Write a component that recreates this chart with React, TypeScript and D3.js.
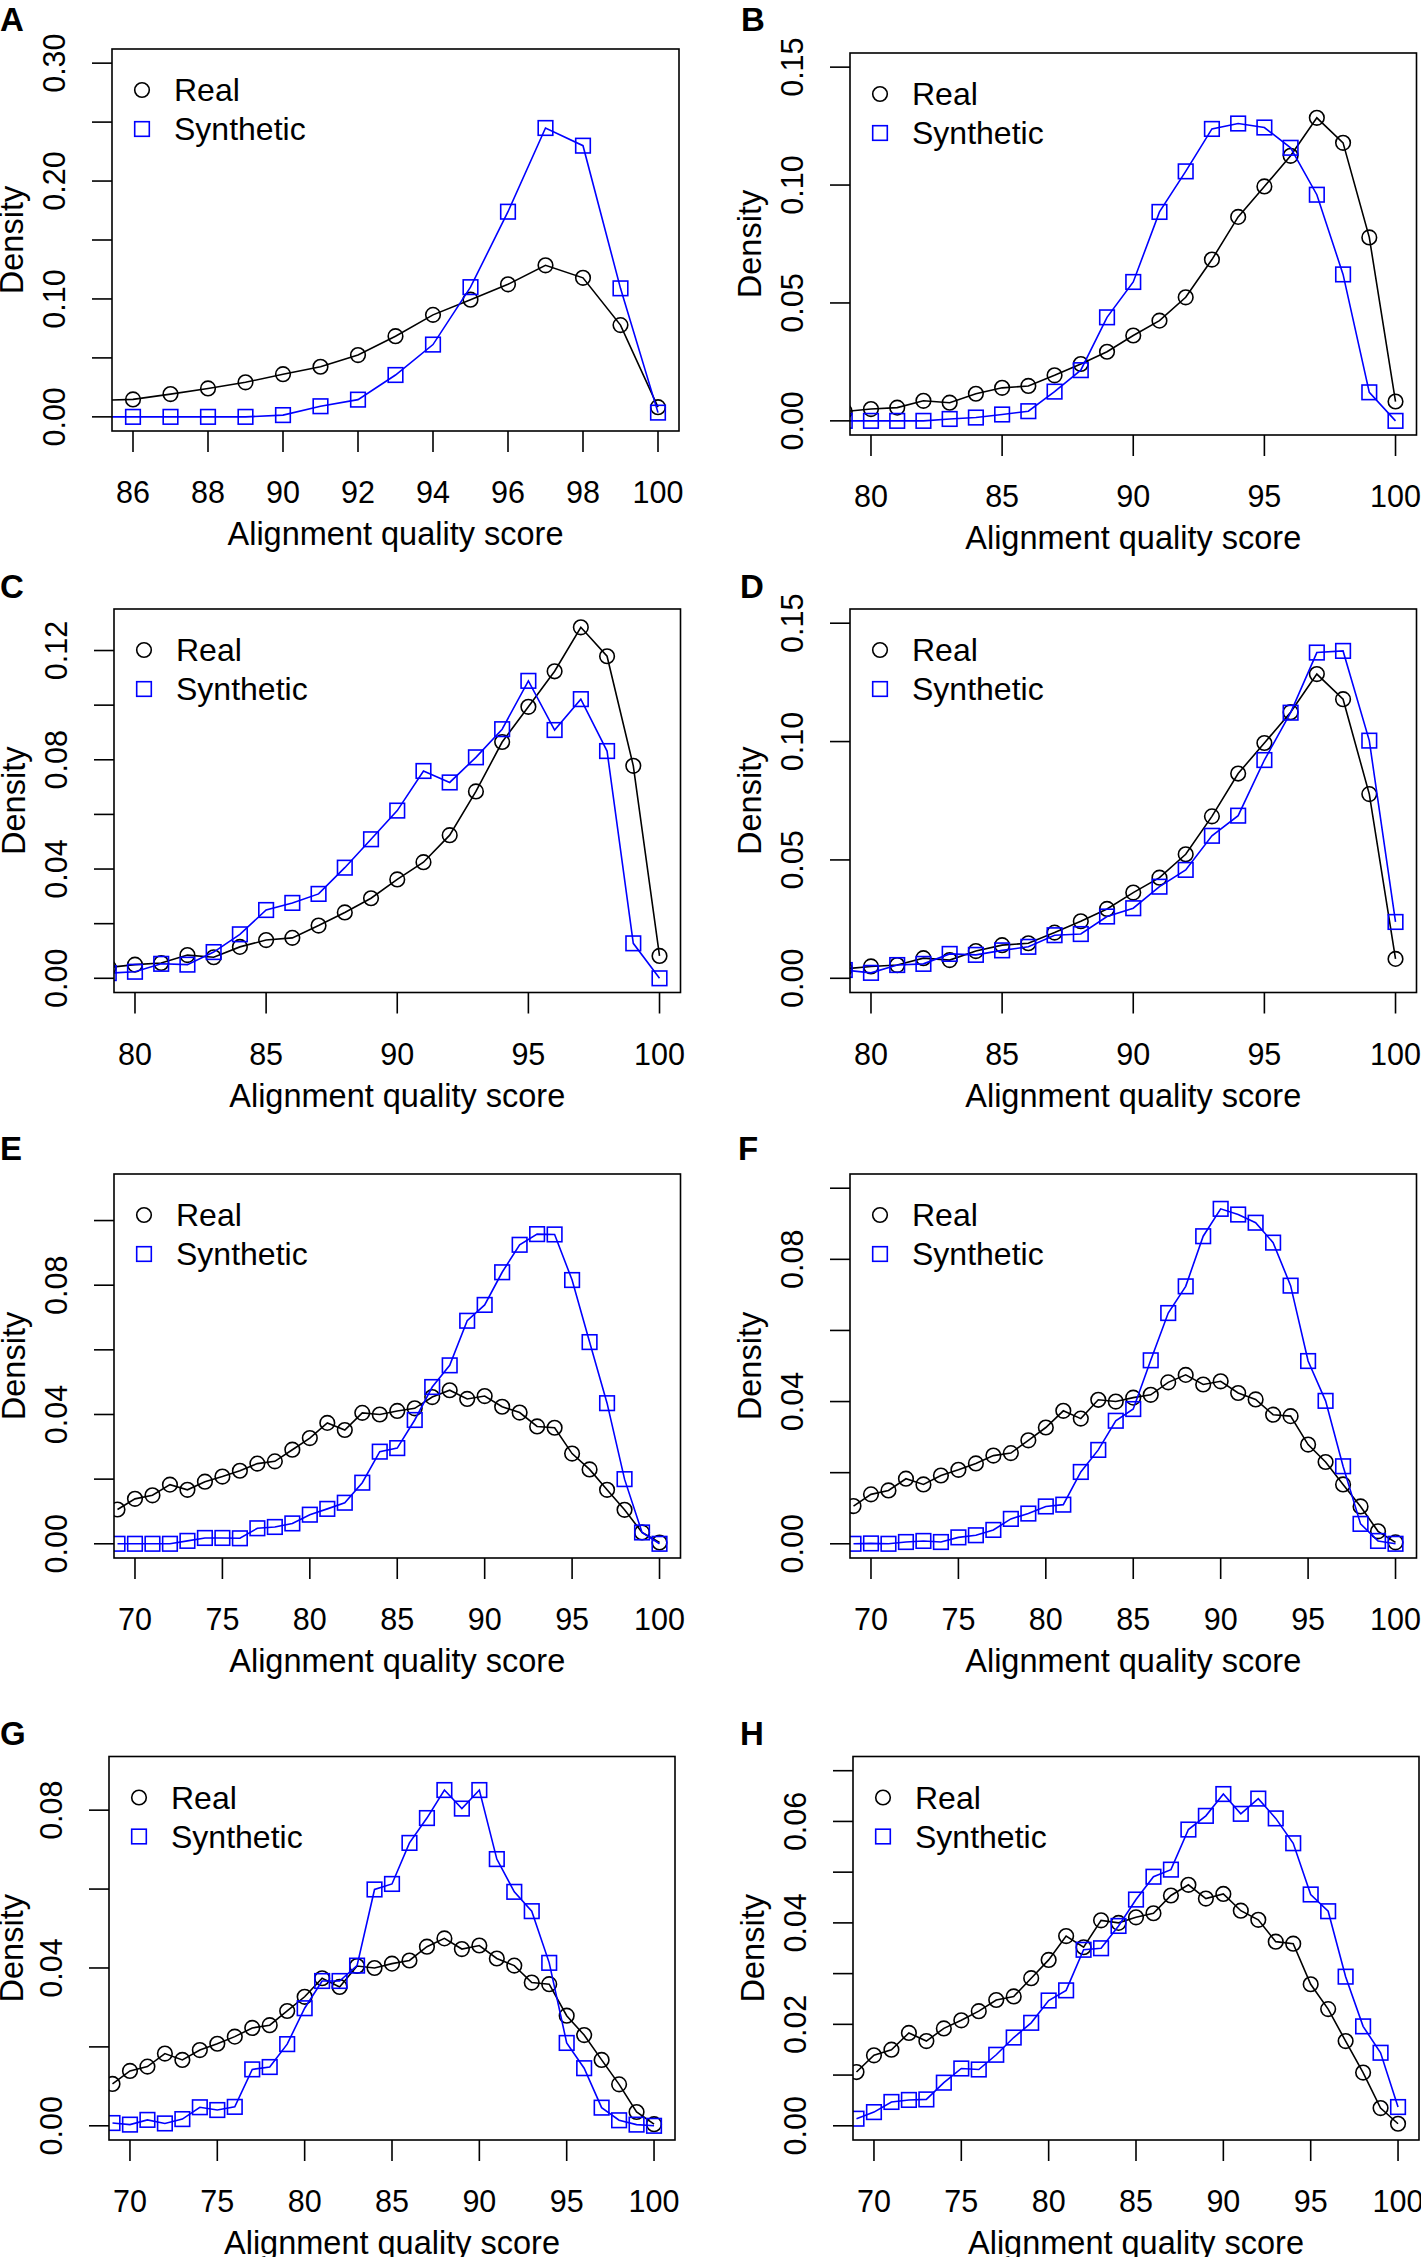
import React from "react";
import * as d3 from "d3";

// ---------- DATA ----------
const panelLetters = ["A", "B", "C", "D", "E", "F", "G", "H"];
const seriesNames = ["Real", "Synthetic"];
const xTitle = "Alignment quality score";
const yTitle = "Density";

// Real reads, panels A–D (scores 79..100)
const realAD_start = 79;
const realAD = [0.0040, 0.0050, 0.0056, 0.0085, 0.0077, 0.0115, 0.0140, 0.0148, 0.0193, 0.0241, 0.0293, 0.0362, 0.0425, 0.0524, 0.0684, 0.0865, 0.0994, 0.1124, 0.1285, 0.1179, 0.0778, 0.0082];

// Synthetic reads, panels A–D
const synthA_start = 85;
const synthA = [0, 0, 0, 0, 0, 0.0015, 0.0090, 0.0146, 0.0355, 0.0613, 0.110, 0.174, 0.245, 0.230, 0.109, 0.0036];
const synthB_start = 79;
const synthB = [0, 0, 0, 0, 0.0008, 0.0014, 0.0027, 0.0041, 0.0124, 0.0215, 0.0439, 0.0589, 0.0886, 0.1058, 0.1238, 0.1261, 0.1244, 0.1158, 0.0959, 0.0621, 0.0121, 0];
const synthC_start = 79;
const synthC = [0.0019, 0.0024, 0.0053, 0.0050, 0.0096, 0.0161, 0.0250, 0.0276, 0.0309, 0.0405, 0.0509, 0.0614, 0.0759, 0.0717, 0.0809, 0.0912, 0.1089, 0.0909, 0.1022, 0.0832, 0.0128, 0];
const synthD_start = 79;
const synthD = [0.0035, 0.0023, 0.0056, 0.0061, 0.0103, 0.0099, 0.0118, 0.0133, 0.0182, 0.0187, 0.0261, 0.0296, 0.0387, 0.0458, 0.0602, 0.0687, 0.0922, 0.1122, 0.1376, 0.1383, 0.1004, 0.0238];

// Real reads, panels E–H (scores 69..100)
const realEH_start = 69;
const realEH = [0.0106, 0.0139, 0.0150, 0.0183, 0.0167, 0.0192, 0.0208, 0.0226, 0.0248, 0.0255, 0.0291, 0.0327, 0.0374, 0.0352, 0.0405, 0.0400, 0.0411, 0.0419, 0.0454, 0.0475, 0.0448, 0.0457, 0.0424, 0.0406, 0.0363, 0.0359, 0.0279, 0.0230, 0.0167, 0.0105, 0.0035, 0.0004];

// Synthetic reads, panels E–H
const synthE_start = 69;
const synthE = [0, 0, 0, 0, 0.0009, 0.0018, 0.0018, 0.0017, 0.0048, 0.0052, 0.0063, 0.0090, 0.0108, 0.0127, 0.0189, 0.0285, 0.0296, 0.0383, 0.0485, 0.0552, 0.0690, 0.0739, 0.0840, 0.0925, 0.0958, 0.0957, 0.0816, 0.0624, 0.0435, 0.0200, 0.0035, 0];
const synthF_start = 69;
const synthF = [0, 0.0001, 0, 0.0005, 0.0008, 0.0005, 0.0018, 0.0024, 0.0039, 0.0070, 0.0085, 0.0105, 0.0110, 0.0202, 0.0264, 0.0346, 0.0379, 0.0516, 0.0649, 0.0724, 0.0865, 0.0942, 0.0926, 0.0903, 0.0847, 0.0726, 0.0514, 0.0402, 0.0218, 0.0056, 0.0008, 0];
const synthG_start = 69;
const synthG = [0.0007, 0.0003, 0.0015, 0.0006, 0.0017, 0.0047, 0.0040, 0.0048, 0.0143, 0.0149, 0.0207, 0.0298, 0.0367, 0.0367, 0.0406, 0.0599, 0.0613, 0.0717, 0.0780, 0.0851, 0.0804, 0.0851, 0.0676, 0.0593, 0.0544, 0.0413, 0.0210, 0.0146, 0.0046, 0.0014, 0.0003, 0];
const synthH_start = 69;
const synthH = [0.0014, 0.0027, 0.0047, 0.0051, 0.0052, 0.0085, 0.0113, 0.0111, 0.0140, 0.0174, 0.0203, 0.0247, 0.0267, 0.0347, 0.0350, 0.0394, 0.0446, 0.0491, 0.0505, 0.0584, 0.0611, 0.0654, 0.0615, 0.0645, 0.0606, 0.0557, 0.0456, 0.0423, 0.0294, 0.0196, 0.0144, 0.0037];

// Axis ranges and ticks
const xlimA = [86, 100];
const xTicksA = [86, 88, 90, 92, 94, 96, 98, 100];
const xlimBD = [80, 100];
const xTicksBD = [80, 85, 90, 95, 100];
const xlimEH = [70, 100];
const xTicksEH = [70, 75, 80, 85, 90, 95, 100];

const ylimA = [0, 0.30];
const yTicksA = [0, 0.05, 0.10, 0.15, 0.20, 0.25, 0.30];
const yLabelsA = ["0.00", "0.10", "0.20", "0.30"];
const ylimB = [0, 0.15];
const yTicksB = [0, 0.05, 0.10, 0.15];
const yLabelsB = ["0.00", "0.05", "0.10", "0.15"];
const ylimC = [0, 0.13];
const yTicksC = [0, 0.02, 0.04, 0.06, 0.08, 0.10, 0.12];
const yLabelsC = ["0.00", "0.04", "0.08", "0.12"];
const ylimD = [0, 0.15];
const yTicksD = [0, 0.05, 0.10, 0.15];
const yLabelsD = ["0.00", "0.05", "0.10", "0.15"];
const ylimE = [0, 0.11];
const yTicksE = [0, 0.02, 0.04, 0.06, 0.08, 0.10];
const yLabelsE = ["0.00", "0.04", "0.08"];
const ylimF = [0, 0.10];
const yTicksF = [0, 0.02, 0.04, 0.06, 0.08, 0.10];
const yLabelsF = ["0.00", "0.04", "0.08"];
const ylimG = [0, 0.09];
const yTicksG = [0, 0.02, 0.04, 0.06, 0.08];
const yLabelsG = ["0.00", "0.04", "0.08"];
const ylimH = [0, 0.07];
const yTicksH = [0, 0.01, 0.02, 0.03, 0.04, 0.05, 0.06, 0.07];
const yLabelsH = ["0.00", "0.02", "0.04", "0.06"];

// ---------- LAYOUT ----------
const W = 1421;
const H = 2257;
const boxes = [
  { l: 112, r: 679, t: 49, b: 431, lx: 0, ly: 30.5 },
  { l: 850, r: 1416.5, t: 53, b: 435, lx: 741, ly: 30.5 },
  { l: 114, r: 680.5, t: 609, b: 992.5, lx: 0, ly: 598 },
  { l: 850, r: 1416.5, t: 609, b: 992.5, lx: 740, ly: 598 },
  { l: 114, r: 680.5, t: 1174, b: 1558, lx: 0, ly: 1160 },
  { l: 850, r: 1416.5, t: 1174, b: 1558, lx: 738, ly: 1160 },
  { l: 109, r: 675, t: 1756.5, b: 2140, lx: 0, ly: 1744.5 },
  { l: 853, r: 1419, t: 1756.5, b: 2140, lx: 740, ly: 1744.5 },
];

const BLUE = "#0000FF";
const FONT = "'Liberation Sans', Arial, Helvetica, sans-serif";
const FS_TICK = 30.5;
const FS_LAB = 32.5;
const FS_LEG = 32;

function toPoints(start: number, vals: number[]) {
  return vals.map((v, i) => ({ x: start + i, y: v }));
}

const panels = [
  { real: toPoints(realAD_start, realAD), synth: toPoints(synthA_start, synthA), xlim: xlimA, xTicks: xTicksA, ylim: ylimA, yTicks: yTicksA, yLabels: yLabelsA },
  { real: toPoints(realAD_start, realAD), synth: toPoints(synthB_start, synthB), xlim: xlimBD, xTicks: xTicksBD, ylim: ylimB, yTicks: yTicksB, yLabels: yLabelsB },
  { real: toPoints(realAD_start, realAD), synth: toPoints(synthC_start, synthC), xlim: xlimBD, xTicks: xTicksBD, ylim: ylimC, yTicks: yTicksC, yLabels: yLabelsC },
  { real: toPoints(realAD_start, realAD), synth: toPoints(synthD_start, synthD), xlim: xlimBD, xTicks: xTicksBD, ylim: ylimD, yTicks: yTicksD, yLabels: yLabelsD },
  { real: toPoints(realEH_start, realEH), synth: toPoints(synthE_start, synthE), xlim: xlimEH, xTicks: xTicksEH, ylim: ylimE, yTicks: yTicksE, yLabels: yLabelsE },
  { real: toPoints(realEH_start, realEH), synth: toPoints(synthF_start, synthF), xlim: xlimEH, xTicks: xTicksEH, ylim: ylimF, yTicks: yTicksF, yLabels: yLabelsF },
  { real: toPoints(realEH_start, realEH), synth: toPoints(synthG_start, synthG), xlim: xlimEH, xTicks: xTicksEH, ylim: ylimG, yTicks: yTicksG, yLabels: yLabelsG },
  { real: toPoints(realEH_start, realEH), synth: toPoints(synthH_start, synthH), xlim: xlimEH, xTicks: xTicksEH, ylim: ylimH, yTicks: yTicksH, yLabels: yLabelsH },
];

function ext(lim: number[]) {
  const d = (lim[1] - lim[0]) * 0.04;
  return [lim[0] - d, lim[1] + d];
}

const R = 7.3;
const SQ = 14.6;
const LW = 1.6;

function Panel({ idx }: { idx: number }) {
  const p = panels[idx];
  const b = boxes[idx];
  const x = d3.scaleLinear().domain(ext(p.xlim)).range([b.l, b.r]);
  const y = d3.scaleLinear().domain(ext(p.ylim)).range([b.b, b.t]);
  const line = d3
    .line<{ x: number; y: number }>()
    .x((d) => x(d.x))
    .y((d) => y(d.y));
  const clipId = `clip${idx}`;
  const midY = (b.t + b.b) / 2;
  const midX = (b.l + b.r) / 2;
  const dens = Math.max(b.l - 89, 23);
  return (
    <g>
      <defs>
        <clipPath id={clipId}>
          <rect x={b.l} y={b.t} width={b.r - b.l} height={b.b - b.t} />
        </clipPath>
      </defs>
      <text x={b.lx} y={b.ly} fontFamily={FONT} fontWeight="bold" fontSize={33} fill="#000">
        {panelLetters[idx]}
      </text>
      <g clipPath={`url(#${clipId})`}>
        <path d={line(p.real) || ""} fill="none" stroke="#000" strokeWidth={LW} />
        {p.real.map((d, i) => (
          <circle key={"r" + i} cx={x(d.x)} cy={y(d.y)} r={R} fill="none" stroke="#000" strokeWidth={LW} />
        ))}
        <path d={line(p.synth) || ""} fill="none" stroke={BLUE} strokeWidth={LW} />
        {p.synth.map((d, i) => (
          <rect key={"s" + i} x={x(d.x) - SQ / 2} y={y(d.y) - SQ / 2} width={SQ} height={SQ} fill="none" stroke={BLUE} strokeWidth={LW} />
        ))}
      </g>
      <rect x={b.l} y={b.t} width={b.r - b.l} height={b.b - b.t} fill="none" stroke="#000" strokeWidth={1.6} />
      {/* x axis */}
      {p.xTicks.map((t) => (
        <g key={"xt" + t}>
          <line x1={x(t)} x2={x(t)} y1={b.b} y2={b.b + 21} stroke="#000" strokeWidth={1.6} />
          <text x={x(t)} y={b.b + 72} textAnchor="middle" fontFamily={FONT} fontSize={FS_TICK} fill="#000">
            {t}
          </text>
        </g>
      ))}
      <text x={midX} y={b.b + 114} textAnchor="middle" fontFamily={FONT} fontSize={FS_LAB} fill="#000">
        {xTitle}
      </text>
      {/* y axis */}
      {p.yTicks.map((t) => (
        <line key={"yt" + t} x1={b.l - 20} x2={b.l} y1={y(t)} y2={y(t)} stroke="#000" strokeWidth={1.6} />
      ))}
      {p.yLabels.map((lab) => (
        <text
          key={"yl" + lab}
          x={b.l - 47}
          y={y(+lab)}
          transform={`rotate(-90, ${b.l - 47}, ${y(+lab)})`}
          textAnchor="middle"
          fontFamily={FONT}
          fontSize={FS_TICK}
          fill="#000"
        >
          {lab}
        </text>
      ))}
      <text
        x={dens}
        y={midY}
        transform={`rotate(-90, ${dens}, ${midY})`}
        textAnchor="middle"
        fontFamily={FONT}
        fontSize={FS_LAB}
        fill="#000"
      >
        {yTitle}
      </text>
      {/* legend */}
      <circle cx={b.l + 30} cy={b.t + 41} r={R} fill="none" stroke="#000" strokeWidth={LW} />
      <text x={b.l + 62} y={b.t + 52} fontFamily={FONT} fontSize={FS_LEG} fill="#000">
        {seriesNames[0]}
      </text>
      <rect x={b.l + 30 - SQ / 2} y={b.t + 80 - SQ / 2} width={SQ} height={SQ} fill="none" stroke={BLUE} strokeWidth={LW} />
      <text x={b.l + 62} y={b.t + 91} fontFamily={FONT} fontSize={FS_LEG} fill="#000">
        {seriesNames[1]}
      </text>
    </g>
  );
}

export default function App() {
  return (
    <svg
      width={W}
      height={H}
      viewBox={`0 0 ${W} ${H}`}
      style={{ position: "absolute", left: 0, top: 0, background: "#fff", display: "block" }}
    >
      <rect x={0} y={0} width={W} height={H} fill="#fff" />
      {panels.map((_, i) => (
        <Panel key={i} idx={i} />
      ))}
    </svg>
  );
}
